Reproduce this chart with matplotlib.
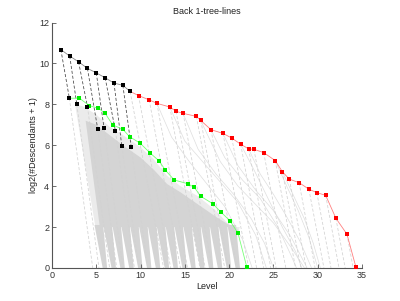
import matplotlib
matplotlib.use("Agg")
import matplotlib.pyplot as plt
from matplotlib.collections import LineCollection
from matplotlib.patches import Polygon

# top path: black part (levels 1-9) then red part
top_black_x = [1, 2, 3, 4, 5, 6, 7, 8, 8.82]
top_black_y = [10.68, 10.36, 10.08, 9.76, 9.54, 9.30, 9.04, 8.93, 8.63]
low_black_x = [1.96, 2.8, 4.0, 5.17, 5.88, 7.16, 7.88, 8.94]
low_black_y = [8.30, 8.00, 7.89, 6.78, 6.83, 6.70, 5.97, 5.93]
low_black_end = [4.6, 5.3, 6.5, 7.3, 8.0, 9.3, 9.8, 10.8]

red_x = [8.82, 9.77, 10.97, 11.84, 13.3, 14.0, 14.8, 16.3, 16.8, 17.95, 19.3,
         20.3, 21.3, 22.2, 22.8, 23.9, 25.2, 26.0, 26.8, 27.9, 29.0, 29.9,
         30.9, 32.05, 33.3, 34.3]
red_y = [8.63, 8.43, 8.22, 8.05, 7.87, 7.66, 7.56, 7.41, 7.21, 6.76, 6.58,
         6.35, 6.05, 5.82, 5.80, 5.64, 5.25, 4.71, 4.34, 4.17, 3.85, 3.68,
         3.55, 2.43, 1.65, 0.06]
red_end = [12.6, 13.4, 14.5, 15.3, 16.7, 17.3, 18.1, 19.5, 19.9, 20.9, 22.2,
           23.1, 23.9, 24.7, 25.3, 26.4, 27.5, 28.1, 28.7, 29.7, 30.7, 31.5,
           32.4, 33.1, 34.0, 34.3]

green_x = [1.96, 3.1, 4.2, 5.24, 6.0, 6.86, 8.0, 8.75, 9.95, 11.1, 12.1, 12.8,
           13.8, 15.3, 16.06, 16.8, 18.15, 19.1, 20.1, 21.0, 22.0]
green_y = [8.30, 8.30, 7.94, 7.81, 7.56, 6.99, 6.78, 6.42, 6.10, 5.61, 5.23,
           4.78, 4.30, 4.12, 3.94, 3.50, 3.14, 2.72, 2.30, 1.70, 0.03]

# outline of the dense bundle of tree lines
fringe_x = [2.6, 3.5, 5.0, 6.5, 8.0, 10.0, 11.5, 13.0, 14.5, 16.5, 18.5, 20.0, 21.0, 21.2, 4.9]
fringe_y = [8.0, 7.9, 7.5, 6.9, 6.5, 5.9, 5.3, 4.5, 4.0, 3.5, 2.8, 2.1, 1.6, 2.0, 2.0]
dense_x = [3.8, 5.0, 6.5, 8.0, 10.0, 11.5, 13.0, 14.5, 16.5, 18.5, 20.0, 20.6, 5.4]
dense_y = [7.2, 7.0, 6.5, 6.0, 5.4, 4.8, 4.1, 3.7, 3.1, 2.5, 2.1, 2.0, 2.0]
leaf_levels = [6, 7, 8, 9, 10, 11, 12, 13, 14, 15, 16, 17, 18, 19, 20, 21]

# sparse tree lines right of the bundle
trees = [
    [(16.8, 7.2), (19, 5.2), (21, 4.0), (23, 3.1), (25, 2.2), (27, 1.0), (28.5, 0)],
    [(19.3, 6.58), (21, 5.0), (23, 3.8), (25, 2.8), (27, 1.5), (28.8, 0)],
    [(17.95, 6.76), (19.5, 5.4), (21.5, 4.3), (23.5, 3.4), (25.5, 2.0), (27, 0.6), (27.6, 0)],
    [(14.8, 7.56), (16.5, 5.8), (18.5, 4.6), (20.5, 3.6), (22.5, 2.4), (24, 1.2), (25, 0)],
    [(13.3, 7.87), (15, 6.2), (17, 5.2), (19, 4.2), (21, 3.2), (23, 1.6), (24.2, 0)],
    [(22.2, 5.82), (23.5, 4.6), (25, 3.6), (26.5, 2.5), (28, 1.3), (29.3, 0)],
    [(21.3, 6.05), (22.8, 4.8), (24.5, 3.3), (26, 2.0), (27.5, 0.8), (28.2, 0)],
    [(26.0, 4.71), (27.2, 3.6), (28.5, 2.4), (29.5, 1.2), (30.3, 0)],
    [(25.2, 5.25), (26.5, 4.0), (27.8, 2.8), (29, 1.5), (30, 0)],
    [(11.84, 8.05), (13.5, 6.4), (15.5, 5.2), (17.5, 4.1), (19.5, 3.0), (21.5, 1.4), (22.6, 0)],
]

plt.rcParams['font.family'] = ['Liberation Sans', 'DejaVu Sans']
fig = plt.figure(figsize=(4, 3.01), dpi=100)
ax = fig.add_axes([0.13, 0.11, 0.775, 0.815])

gray = '#d4d4d4'
ax.add_patch(Polygon(list(zip(fringe_x, fringe_y)), closed=True, fc='#ebebeb', ec='none', zorder=1))
ax.add_patch(Polygon(list(zip(dense_x, dense_y)), closed=True, fc=gray, ec='none', zorder=1))
for k in leaf_levels:
    # slanted band of branches converging on the leaves of level k
    band = [(k - 0.28, 0), (k + 0.22, 0), (k - 0.22, 2.1), (k - 1.2, 2.1)]
    ax.add_patch(Polygon(band, closed=True, fc=gray, ec='none', zorder=1))

ax.add_collection(LineCollection(trees, colors='#dedede', linewidths=0.5, zorder=2))

# dashed back lines
segs = [[(x, y), (e, 0)] for x, y, e in zip(red_x, red_y, red_end)]
segs += [[(x, y), (e, 0)] for x, y, e in zip(low_black_x, low_black_y, low_black_end)]
ax.add_collection(LineCollection(segs, colors='#d2d2d2', linewidths=0.55,
                                 linestyles=(0, (4, 2.5)), zorder=2))
bsegs = [[(top_black_x[i], top_black_y[i]), (low_black_x[i], low_black_y[i])]
         for i in range(len(low_black_x))]
ax.add_collection(LineCollection(bsegs, colors='#444444', linewidths=0.55,
                                 linestyles=(0, (4, 2.5)), zorder=3))

ms = 2.2
ax.plot(green_x, green_y, '-', color='#77ff77', lw=0.6, zorder=4)
ax.plot(green_x, green_y, 's', color='#00ee00', ms=ms, mew=0, zorder=5)
ax.plot(red_x, red_y, '-', color='#ff8080', lw=0.6, zorder=4)
ax.plot(red_x, red_y, 's', color='#ff0000', ms=ms, mew=0, zorder=5)
ax.plot(top_black_x, top_black_y, '-', color='#888888', lw=0.6, zorder=4)
ax.plot(top_black_x, top_black_y, 's', color='k', ms=ms, mew=0, zorder=6)
ax.plot(low_black_x, low_black_y, 's', color='k', ms=ms, mew=0, zorder=6)

ax.set_xlim(0, 35)
ax.set_ylim(0, 12)
ax.set_xticks(range(0, 36, 5))
ax.set_yticks(range(0, 13, 2))
for s in ['top', 'right']:
    ax.spines[s].set_visible(False)
for s in ['left', 'bottom']:
    ax.spines[s].set_color('#555555')
    ax.spines[s].set_linewidth(0.8)
ax.tick_params(direction='in', length=3, width=0.6, colors='#555555',
               labelsize=6.5, labelcolor='#333333', pad=2)
ax.set_title('Back 1-tree-lines', fontsize=6.5, color='#222222', pad=6)
ax.set_xlabel('Level', fontsize=6.5, color='#222222', labelpad=2)
ax.set_ylabel('log2(#Descendants + 1)', fontsize=6.5, color='#222222', labelpad=1)

fig.savefig('out.png', dpi=100)
